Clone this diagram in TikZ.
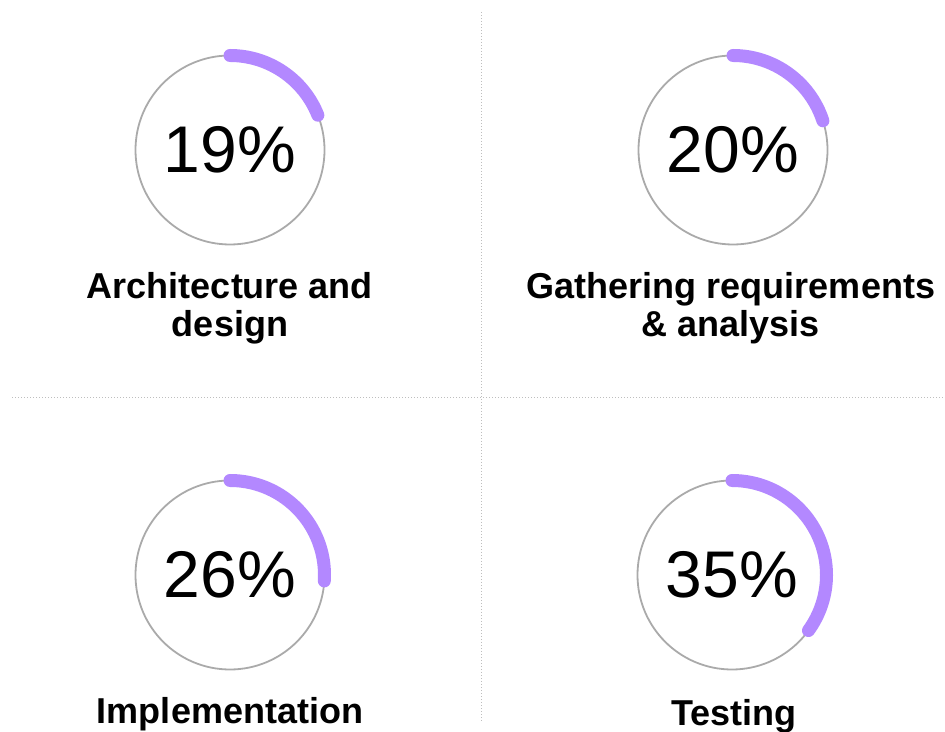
\documentclass[tikz,border=0pt]{standalone}
\usepackage{fontspec}
\setmainfont{Liberation Sans}
\usepackage{tikz}
\definecolor{lavender}{RGB}{179,136,255}
\definecolor{ringgray}{RGB}{170,170,170}
\definecolor{dotgray}{RGB}{190,190,190}

\begin{document}
\begin{tikzpicture}[x=1pt, y=1pt,
    ring/.style={draw=ringgray, line width=1.8pt, circle, minimum size=189pt, inner sep=0pt, outer sep=0pt, font=\fontsize{66}{66}\selectfont},
    progress/.style={draw=lavender, line width=13pt, line cap=round},
    caption/.style={align=center, anchor=base, font=\fontsize{36}{38}\selectfont\bfseries},
    divider/.style={draw=dotgray, line width=1pt, dash pattern=on 1pt off 2pt}]
    \useasboundingbox (0, 0) rectangle (945, 731);
    \draw[divider] (481, 719) -- (481, 9);
    \draw[divider] (12, 333) -- (945, 333);
    \node[ring] at (230, 581) (arch) {19\%};
    \node[ring] at (733, 581) (req) {20\%};
    \node[ring] at (230, 156) (impl) {26\%};
    \node[ring] at (732, 156) (test) {35\%};
    \draw[progress] (arch.north) arc[start angle=90, delta angle=-68.4, radius=94.5pt];
    \draw[progress] (req.north) arc[start angle=90, delta angle=-72, radius=94.5pt];
    \draw[progress] (impl.north) arc[start angle=90, delta angle=-93.6, radius=94.5pt];
    \draw[progress] (test.north) arc[start angle=90, delta angle=-126, radius=94.5pt];
    \node[caption] at (230, 394) (archtext) {Architecture and\\design};
    \node[caption] at (731, 394) (reqtext) {Gathering requirements\\\& analysis};
    \node[caption] at (230, 8) (impltext) {Implementation};
    \node[caption] at (734, 6) (testtext) {Testing};
\end{tikzpicture}
\end{document}
